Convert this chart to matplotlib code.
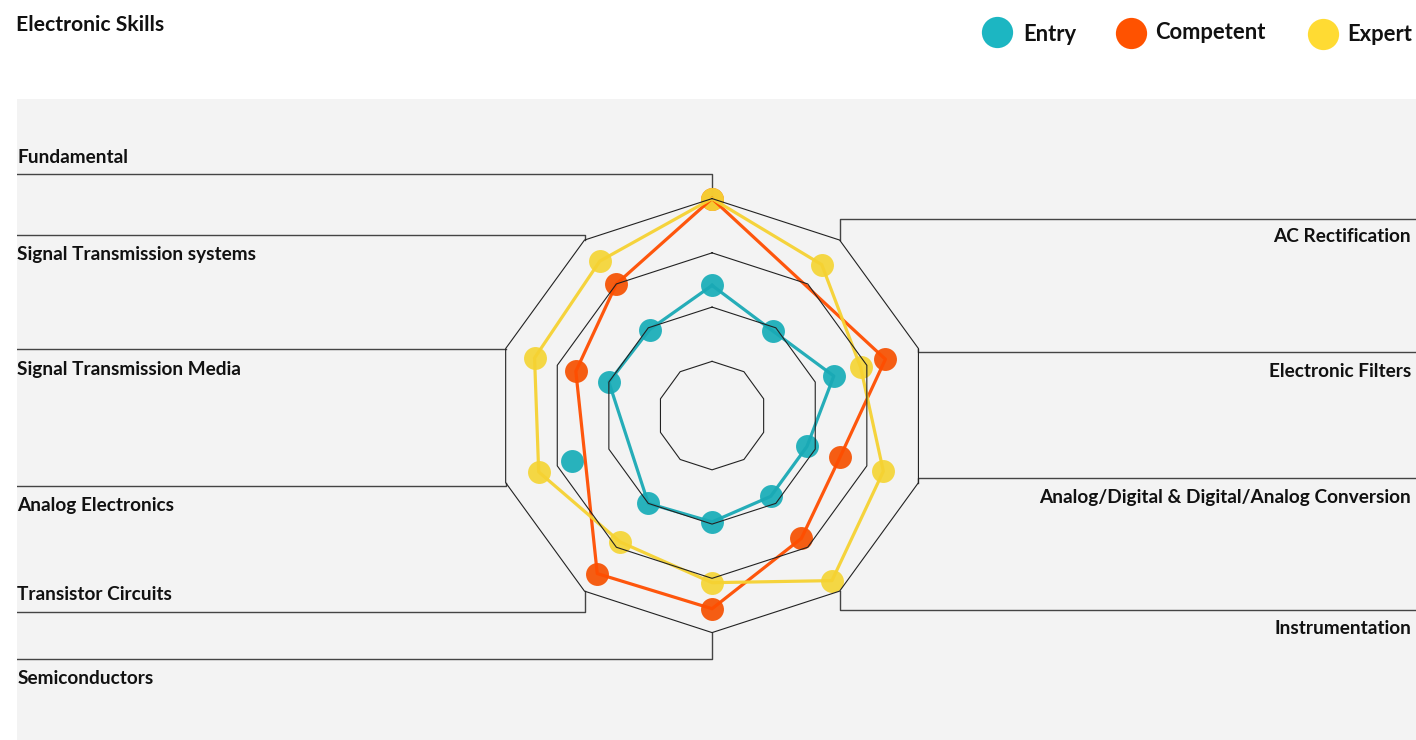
import numpy as np
import matplotlib
matplotlib.use("Agg")
import matplotlib.pyplot as plt

plt.rcParams['font.family'] = ['Lato', 'DejaVu Sans']

# skills, clockwise from the top
skills = ["Fundamental", "AC Rectification", "Electronic Filters",
          "Analog/Digital & Digital/Analog Conversion", "Instrumentation",
          "Semiconductors", "Transistor Circuits", "Analog Electronics",
          "Signal Transmission Media", "Signal Transmission systems"]

levels = ["Entry", "Competent", "Expert"]
entry = [60, 48, 59, 46, 46, 49, 50, 68, 50, 49]
competent = [100, None, 84, 62, 70, 89, 90, None, 66, 75]
expert = [100, 86, 72, 83, 94, 77, 72, 84, 86, 88]
# points that are drawn but left out of the connecting line
line_skip = {"Entry": ["Analog Electronics"]}

rings = [25, 50, 75, 100]

dot_colors = {"Entry": "#17adb8", "Competent": "#f65000", "Expert": "#f5d535"}
line_colors = {"Entry": "#1aa9b5", "Competent": "#ff4e00", "Expert": "#f6d232"}
legend_colors = {"Entry": "#1cb6c2", "Competent": "#ff5200", "Expert": "#ffdb33"}

# label layout (value units, centre of chart = 0,0)
line_y = [111.2, 90.6, 29.4, -28.9, -89.6, -112.2, -90.4, -32.4, 30.5, 83.2]
text_y = [116.4, 79.8, 17.9, -40.5, -100.7, -123.7, -84.9, -44.0, 18.7, 71.9]

n = len(skills)
theta = np.deg2rad(90 - 36 * np.arange(n))

fig = plt.figure(figsize=(14.16, 7.40), dpi=100)
fig.patch.set_facecolor("white")

ax = fig.add_axes([17 / 1416, 0, 1399 / 1416, 641 / 740])
ax.set_facecolor("#f3f3f3")
xmin, xmax = -320.3, 324.4
ax.set_xlim(xmin, xmax)
ax.set_ylim(-149.5, 145.9)
for s in ax.spines.values():
    s.set_visible(False)
ax.set_xticks([])
ax.set_yticks([])

# grid decagons
for r in rings:
    xs = r * np.cos(np.append(theta, theta[0]))
    ys = r * np.sin(np.append(theta, theta[0]))
    ax.plot(xs, ys, color="#222222", lw=0.8, zorder=4)

# leader lines from outer ring to labels
for i, name in enumerate(skills):
    vx = rings[-1] * np.cos(theta[i])
    vy = rings[-1] * np.sin(theta[i])
    right = vx > 1
    edge = xmax if right else xmin
    ax.plot([vx, vx, edge], [vy, line_y[i], line_y[i]], color="#444444",
            lw=1.0, zorder=1)
    if right:
        ax.text(322.1, text_y[i], name, ha="right", va="baseline",
                fontsize=13.7, fontweight="bold", color="#111111")
    else:
        ax.text(xmin + 0.2, text_y[i], name, ha="left", va="baseline",
                fontsize=13.7, fontweight="bold", color="#111111")

series = {"Entry": entry, "Competent": competent, "Expert": expert}
for lvl in levels:
    vals = series[lvl]
    skip = line_skip.get(lvl, [])
    px, py, lx, ly = [], [], [], []
    for i, v in enumerate(vals):
        if v is None:
            continue
        x, y = v * np.cos(theta[i]), v * np.sin(theta[i])
        px.append(x)
        py.append(y)
        if skills[i] not in skip:
            lx.append(x)
            ly.append(y)
    lx.append(lx[0])
    ly.append(ly[0])
    ax.plot(px, py, "o", ms=16.5, color=dot_colors[lvl], alpha=0.92,
            mec="none", zorder=2)
    ax.plot(lx, ly, color=line_colors[lvl], lw=2.3, alpha=0.95, zorder=3)

# title and legend in pixel coordinates
top = fig.add_axes([0, 0, 1, 1], zorder=5)
top.set_xlim(0, 1416)
top.set_ylim(740, 0)
top.axis("off")
top.patch.set_visible(False)

top.text(16, 31, "Electronic Skills", fontsize=15.2, fontweight="bold",
         va="baseline", color="#111111")

leg_dot_x = [996.7, 1130.7, 1322.7]
leg_dot_y = [32.3, 32.7, 34.3]
leg_text_x = [1023, 1155, 1347]
leg_text_y = [40.7, 39.3, 40.7]
for k, lvl in enumerate(levels):
    top.plot(leg_dot_x[k], leg_dot_y[k], "o", ms=22.5, color=legend_colors[lvl],
             mec="none")
    top.text(leg_text_x[k], leg_text_y[k], lvl, fontsize=15.8, fontweight="bold",
             va="baseline", color="#111111")

fig.savefig("out.png", dpi=100, facecolor="white")
